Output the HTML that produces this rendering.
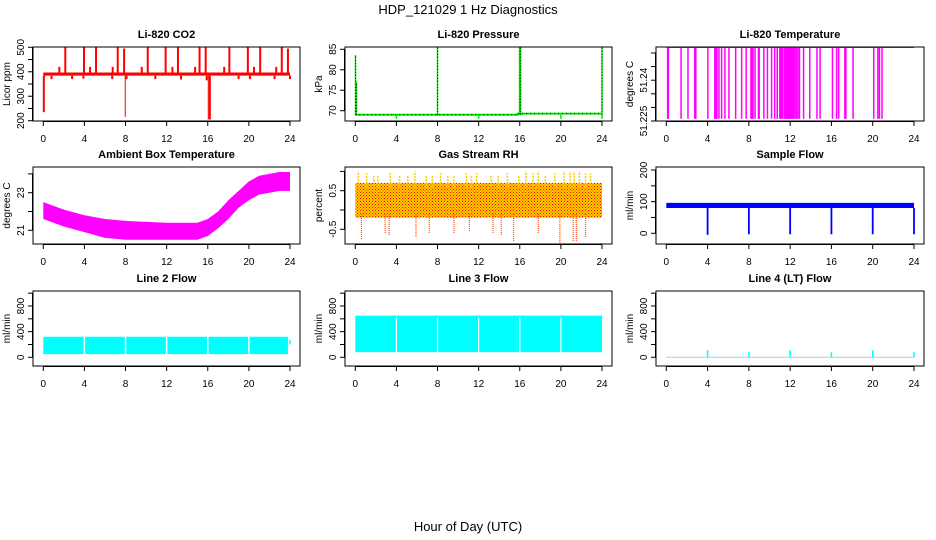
<!DOCTYPE html>
<html><head><meta charset="utf-8">
<style>
body{margin:0;background:#fff;}
svg{display:block;font-family:"Liberation Sans",Arial,sans-serif;}
</style></head>
<body>
<svg id="c" width="936" height="540" viewBox="0 0 936 540">
<text x="468" y="14" text-anchor="middle" font-size="13">HDP_121029  1 Hz Diagnostics</text>
<text x="468" y="531" text-anchor="middle" font-size="13">Hour of Day (UTC)</text>
</svg>
<script>
// ---- data ----
const xTicks = [0,4,8,12,16,20,24];
// CO2
const co2BaseLow = 384, co2BaseHigh = 397;
const co2SpikeHours = [2.14,3.96,5.13,7.24,7.86,10.16,11.9,13.1,15.2,15.8,18.1,19.9,21.1,23.2,23.8];
const co2SpikeValues = [500,500,500,500,495,500,500,500,500,500,500,500,500,500,495];
const co2BumpHours = [1.56,4.55,6.75,9.58,12.56,14.77,17.6,20.5,22.66];
const co2BumpValues = [420,420,420,420,420,420,420,420,420];
const co2DipHours = [0.05,0.1,0.8,2.8,3.9,6.7,8.1,10.9,13.4,15.9,16.2,19.0,20.1,22.5,24];
const co2DipValues = [235,380,370,370,372,370,370,370,368,365,205,370,370,370,370];
const co2DeepDipHours = [7.97,16.05];
const co2DeepDipValues = [215,205];
// Pressure
const presHours = [0,15.8,15.8,24];
const presValues = [69,69,69.3,69.3];
const presSpikeHours = [0.02,0.1,8.0,16.0,16.05,24];
const presSpikeValues = [83.6,77,85.5,86,86,85.5];
const presDipHours = [4,12,20,24];
const presDipValues = [68,68,68,68];
// Li-820 temperature
const tempHigh = 51.252, tempLow = 51.2258;
const tempDropHours = [0.13,0.2,1.43,2.1,2.76,2.86,4.03,4.7,4.78,4.85,4.9,5.1,5.36,5.68,6.07,6.72,7.3,7.74,8.2,8.28,8.35,8.4,8.6,8.93,9.0,9.45,9.8,10.2,10.5,10.75,11.0,11.1,11.2,11.3,11.47,11.6,11.7,11.75,11.85,11.9,12.0,12.1,12.2,12.3,12.45,12.6,12.75,12.9,13.3,13.9,14.6,14.9,16.1,16.5,16.7,17.3,17.4,18.1,20.1,20.5,20.65,20.9];
// Ambient box temperature envelope
const ambHours = [0,2,4,6,8,12,15,16,17,18,19,20,21,22,23,24];
const ambLow  = [21.6,21.2,20.9,20.6,20.5,20.5,20.5,20.7,21.1,21.6,22.2,22.6,22.9,23.0,23.1,23.1];
const ambHigh = [22.5,22.1,21.8,21.6,21.5,21.4,21.4,21.6,22.0,22.6,23.1,23.6,23.9,24.0,24.1,24.1];
// Gas stream RH
const rhHours = [0,24];
const rhLow = [-0.2,-0.2], rhHigh = [0.7,0.7];
const rhUpHours = [0.3,1.1,1.8,2.2,3.4,4.3,5.1,5.8,6.9,7.5,8.3,9.0,9.6,10.8,11.3,11.8,13.2,13.9,14.8,15.9,16.6,17.3,17.8,18.5,19.4,20.3,20.9,21.3,21.8,22.4,22.9];
const rhUpValues = [1.0,0.95,0.9,0.9,0.95,0.9,0.9,1.0,0.9,0.9,0.95,0.9,0.9,0.95,0.9,0.95,0.9,0.9,0.95,0.9,1.0,0.95,1.0,0.9,0.95,1.0,1.0,1.0,1.0,0.95,0.95];
const rhDownHours = [0.6,2.9,3.3,5.9,7.2,9.6,11.1,13.4,14.2,15.4,17.8,19.9,21.2,21.5,22.4];
const rhDownValues = [-0.75,-0.6,-0.65,-0.7,-0.6,-0.6,-0.55,-0.6,-0.65,-0.8,-0.6,-0.9,-0.8,-0.8,-0.7];
// Sample flow
const sfLow = 80, sfHigh = 96;
const sfDropHours = [4,8,12,16,20,24];
const sfDropValues = [-5,-3,-3,-3,-3,-3];
// Line flows
const l2Low = 50, l2High = 320;
const l3Low = 80, l3High = 650, l3GapTop = 620;
const gapHours = [4,8,12,16,20];
const l4SpikeHours = [4,8,12,16,20,24];
const l4SpikeValues = [110,80,110,80,110,80];

// ---- layout ----
const svg = document.getElementById('c');
const NS = 'http://www.w3.org/2000/svg';
const cols = [[33,300],[345,612],[656,924]];
const rows = [[47,121],[167,244],[291,366]];
function el(tag, attrs, parent){const e=document.createElementNS(NS,tag);for(const k in attrs)e.setAttribute(k,attrs[k]);(parent||svg).appendChild(e);return e;}

function panel(ci, ri, title, name, ylab, yA, yB, ticks, labels){
  const [L,R]=cols[ci],[T,B]=rows[ri];
  const g=el('g',{});
  
  
  const x0=L+10.3, x24=R-10;
  const sx=h=>x0+(x24-x0)*h/24;
  const sy=v=>yA[1]+(v-yA[0])*(yB[1]-yA[1])/(yB[0]-yA[0]);
  const t=el('text',{x:(L+R)/2,y:T-9,'text-anchor':'middle','font-size':11,'font-weight':'bold'},g);
  t.textContent=title;
  
  
  const clip=el('clipPath',{id:'cp'+ci+ri},g);
  el('rect',{x:L,y:T,width:R-L,height:B-T},clip);
  const marks=el('g',{'clip-path':'url(#cp'+ci+ri+')'},g);
  
  
  const box=el('rect',{x:L,y:T,width:R-L,height:B-T,fill:'none',stroke:'#000','stroke-width':1},g);
  
  
  el('line',{x1:sx(0),x2:sx(24),y1:B+0.5,y2:B+0.5,stroke:'#000'},g);
  xTicks.forEach(h=>{
    el('line',{x1:sx(h),x2:sx(h),y1:B,y2:B+5,stroke:'#000'},g);
    const tx=el('text',{x:sx(h),y:B+21,'text-anchor':'middle','font-size':10},g);
    tx.textContent=h;
    
    
  });
  el('line',{x1:L-0.5,x2:L-0.5,y1:sy(ticks[0]),y2:sy(ticks[ticks.length-1]),stroke:'#000'},g);
  ticks.forEach(v=>{el('line',{x1:L-5,x2:L,y1:sy(v),y2:sy(v),stroke:'#000'},g);});
  labels.forEach(v=>{
    const ty=el('text',{x:0,y:0,'text-anchor':'middle','font-size':10,transform:`translate(${L-9},${sy(v)}) rotate(-90)`},g);
    ty.textContent=v;
    
    
  });
  const yl=el('text',{x:0,y:0,'text-anchor':'middle','font-size':10,transform:`translate(${L-23},${(T+B)/2}) rotate(-90)`},g);
  yl.textContent=ylab;
  
  
  return {sx,sy,g:marks};
}
function vline(p,h,v1,v2,color,w,extra){const a={x1:p.sx(h),x2:p.sx(h),y1:p.sy(v1),y2:p.sy(v2),stroke:color,'stroke-width':w||1.5};Object.assign(a,extra||{});return el('line',a,p.g);}
function band(p,hours,lo,hi,color){
  let pts=hours.map((h,i)=>p.sx(h)+','+p.sy(hi[i]));
  pts=pts.concat(hours.slice().reverse().map((h,i)=>p.sx(h)+','+p.sy(lo[hours.length-1-i])));
  return el('polygon',{points:pts.join(' '),fill:color},p.g);
}

let p=panel(0,0,'Li-820 CO2','co2','Licor ppm',[500,47.3],[200,120.7],[200,250,300,350,400,450,500],[200,300,400,500]);
band(p,[0,24],[co2BaseLow,co2BaseLow],[co2BaseHigh,co2BaseHigh],'#ff0000');
co2SpikeHours.forEach((h,i)=>vline(p,h,co2BaseHigh,co2SpikeValues[i],'#ff0000',2));
co2BumpHours.forEach((h,i)=>vline(p,h,co2BaseHigh,co2BumpValues[i],'#ff0000',2));
co2DipHours.forEach((h,i)=>vline(p,h,co2BaseLow,co2DipValues[i],'#ff0000',2));
co2DeepDipHours.forEach((h,i)=>vline(p,h,co2BaseLow,co2DeepDipValues[i],'#ff0000',1));

p=panel(1,0,'Li-820 Pressure','pressure','kPa',[85,49.3],[70,110.7],[70,75,80,85],[70,75,80,85]);
el('polyline',{points:presHours.map((h,i)=>p.sx(h)+','+p.sy(presValues[i])).join(' '),fill:'none',stroke:'#00ee00','stroke-width':2},p.g);
el('polyline',{points:presHours.map((h,i)=>p.sx(h)+','+p.sy(presValues[i])).join(' '),fill:'none',stroke:'#000','stroke-width':1,'stroke-dasharray':'1 3'},p.g);
presSpikeHours.forEach((h,i)=>{vline(p,h,69,presSpikeValues[i],'#00ee00',i===3||i===4?2:1.5);vline(p,h,69,presSpikeValues[i],'#000',1,{'stroke-dasharray':'1 2'});});
presDipHours.forEach((h,i)=>vline(p,h,69,presDipValues[i],'#00ee00',1.5));

p=panel(2,0,'Li-820 Temperature','li820-temperature','degrees C',[51.225,121],[51.240,80.2],[51.225,51.230,51.235,51.240,51.245,51.250],[51.225,51.240]);
el('line',{x1:p.sx(0),x2:p.sx(24),y1:p.sy(tempHigh),y2:p.sy(tempHigh),stroke:'#ff00ff','stroke-width':1},p.g);
tempDropHours.forEach(h=>vline(p,h,tempHigh,tempLow,'#ff00ff',1.5));

p=panel(0,1,'Ambient Box Temperature','ambient-temperature','degrees C',[21,230.3],[23,192.7],[21,22,23,24],[21,23]);
band(p,ambHours,ambLow,ambHigh,'#ff00ff');

p=panel(1,1,'Gas Stream RH','gas-stream-rh','percent',[0.5,190.7],[-0.5,229.3],[-0.5,0,0.5,1],[-0.5,0.5]);
const pat=el('pattern',{id:'rhpat',width:3,height:3,patternUnits:'userSpaceOnUse'},svg);
el('rect',{width:3,height:3,fill:'#ffcc00'},pat);
el('rect',{width:1,height:1,fill:'#ff0000'},pat);
el('rect',{x:1.5,y:1.5,width:1,height:1,fill:'#ff2200'},pat);
band(p,rhHours,rhLow,rhHigh,'url(#rhpat)');
rhUpHours.forEach((h,i)=>vline(p,h,0.6,rhUpValues[i],'#ffcc00',1.5,{'stroke-dasharray':'2 1'}));
rhDownHours.forEach((h,i)=>vline(p,h,-0.1,rhDownValues[i],'#ff4400',1.2,{'stroke-dasharray':'1 1'}));

p=panel(2,1,'Sample Flow','sample-flow','ml/min',[0,233.3],[200,170],[0,50,100,150,200],[0,100,200]);
band(p,[0,24],[sfLow,sfLow],[sfHigh,sfHigh],'#0000ff');
sfDropHours.forEach((h,i)=>vline(p,h,sfLow,sfDropValues[i],'#0000ff',1.8));

p=panel(0,2,'Line 2 Flow','line2-flow','ml/min',[0,357.3],[800,306],[0,200,400,600,800,1000],[0,400,800]);
band(p,[0,23.8],[l2Low,l2Low],[l2High,l2High],'#00ffff');
gapHours.forEach(h=>vline(p,h,l2Low-10,l2High+10,'#ffffff',1.5));
vline(p,24,200,270,'#00ffff',1.5);

p=panel(1,2,'Line 3 Flow','line3-flow','ml/min',[0,357.3],[800,306],[0,200,400,600,800,1000],[0,400,800]);
band(p,[0,24],[l3Low,l3Low],[l3High,l3High],'#00ffff');
gapHours.forEach(h=>vline(p,h,l3Low,l3GapTop,'#ffffff',1.2));

p=panel(2,2,'Line 4 (LT) Flow','line4-flow','ml/min',[0,357.3],[800,306],[0,200,400,600,800,1000],[0,400,800]);
el('line',{x1:p.sx(0),x2:p.sx(24),y1:p.sy(0),y2:p.sy(0),stroke:'#aadddd','stroke-width':1.2},p.g);
l4SpikeHours.forEach((h,i)=>vline(p,h,0,l4SpikeValues[i],'#00ffff',1.5));
</script>
</body></html>
